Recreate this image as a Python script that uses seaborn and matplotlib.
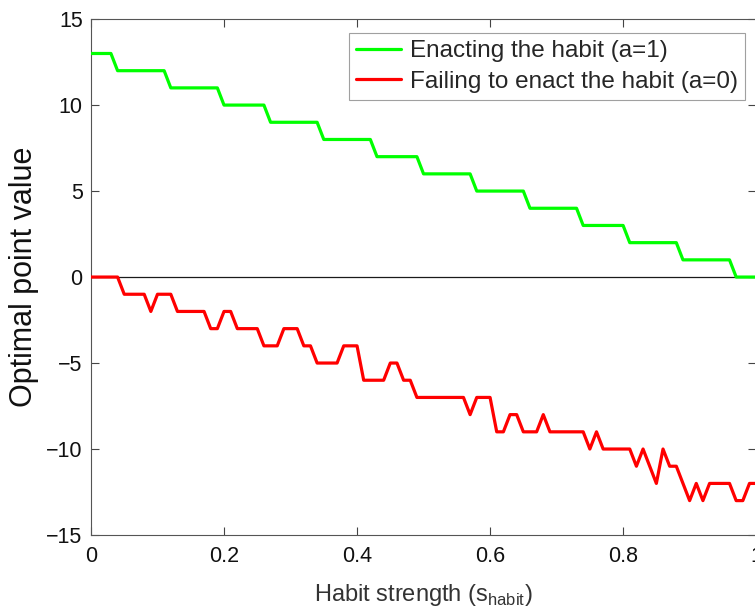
import numpy as np
import pandas as pd
import matplotlib
matplotlib.use("Agg")
import matplotlib.pyplot as plt
import seaborn as sns

# habit strength grid, 0 to 1 in steps of 0.01
habit_strength = np.round(np.linspace(0, 1, 101), 2)

# optimal point value when the habit is enacted (a=1)
enact_values = [13] * 4 + [12] * 8 + [11] * 8 + [10] * 7 + [9] * 8 + [8] * 8 + \
    [7] * 7 + [6] * 8 + [5] * 8 + [4] * 8 + [3] * 7 + [2] * 8 + [1] * 8 + [0] * 4

# optimal point value when the habit is not enacted (a=0)
fail_values = [0, 0, 0, 0, 0, -1, -1, -1, -1, -2,
               -1, -1, -1, -2, -2, -2, -2, -2, -3, -3,
               -2, -2, -3, -3, -3, -3, -4, -4, -4, -3,
               -3, -3, -4, -4, -5, -5, -5, -5, -4, -4,
               -4, -6, -6, -6, -6, -5, -5, -6, -6, -7,
               -7, -7, -7, -7, -7, -7, -7, -8, -7, -7,
               -7, -9, -9, -8, -8, -9, -9, -9, -8, -9,
               -9, -9, -9, -9, -9, -10, -9, -10, -10, -10,
               -10, -10, -11, -10, -11, -12, -10, -11, -11, -12,
               -13, -12, -13, -12, -12, -12, -12, -13, -13, -12,
               -12]

series_labels = ["Enacting the habit (a=1)", "Failing to enact the habit (a=0)"]
series_colors = ["#00ff00", "#ff0000"]

df = pd.DataFrame({
    "s": np.concatenate([habit_strength, habit_strength]),
    "value": enact_values + fail_values,
    "series": [series_labels[0]] * len(enact_values) + [series_labels[1]] * len(fail_values),
})

sns.set_theme(style="ticks")
plt.rcParams["font.family"] = ["Liberation Sans", "DejaVu Sans"]
plt.rcParams["axes.unicode_minus"] = True

fig = plt.figure(figsize=(7.55, 6.12), dpi=100)
ax = fig.add_axes([0.1205, 0.1258, 0.881, 0.843])

ax.axhline(0, color="k", lw=0.9, zorder=1)
sns.lineplot(data=df, x="s", y="value", hue="series", palette=series_colors,
             linewidth=2.3, ax=ax, zorder=3)

ax.set_xlim(0, 1)
ax.set_ylim(-15, 15)
ax.set_xticks([0, 0.2, 0.4, 0.6, 0.8, 1])
ax.set_xticklabels(["0", "0.2", "0.4", "0.6", "0.8", "1"])
ax.set_yticks([-15, -10, -5, 0, 5, 10, 15])
ax.set_yticklabels(["\u221215", "\u221210", "\u22125", "0", "5", "10", "15"])
ax.tick_params(direction="in", length=6, width=0.8, color="#444444",
               labelsize=15.5, top=True, right=True, pad=8, labelcolor="#111111")
ax.tick_params(axis="y", pad=6)
for sp in ax.spines.values():
    sp.set_visible(True)
    sp.set_color("#555555")
    sp.set_linewidth(0.8)

ax.set_xlabel("Habit strength (s$_\\mathregular{habit}$)", fontsize=17, color="#333333", labelpad=11)
ax.set_ylabel("Optimal point value", fontsize=22, color="#111111", labelpad=5)

leg = ax.legend(loc="upper right", bbox_to_anchor=(0.983, 0.973), borderaxespad=0,
                fontsize=17.5, frameon=True, fancybox=False, handlelength=1.85,
                handletextpad=0.35, borderpad=0.3, labelspacing=0.35)
leg.get_frame().set_edgecolor("#888888")
leg.get_frame().set_linewidth(0.8)
for line in leg.get_lines():
    line.set_linewidth(2.3)

fig.savefig("out.png", dpi=100)
